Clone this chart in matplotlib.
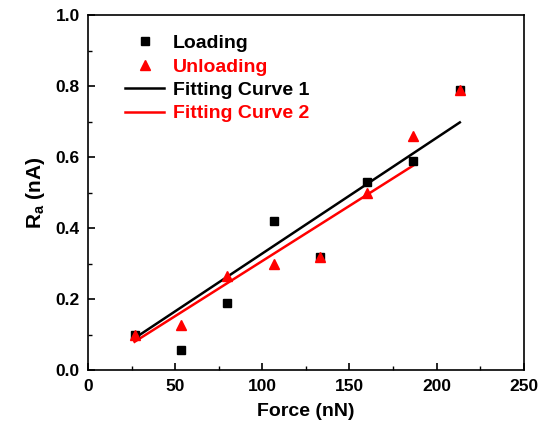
import numpy as np
import matplotlib
matplotlib.use("Agg")
import matplotlib.pyplot as plt
from matplotlib.ticker import MultipleLocator

plt.rcParams['font.family'] = ['Liberation Sans', 'DejaVu Sans']
plt.rcParams['font.weight'] = 'bold'
plt.rcParams['mathtext.fontset'] = 'custom'
plt.rcParams['mathtext.rm'] = 'Liberation Sans:bold'
plt.rcParams['mathtext.bf'] = 'Liberation Sans:bold'

# ── Data ──────────────────────────────────────────────
force       = [26.7, 53.3, 80.0, 106.7, 133.3, 160.0, 186.7, 213.3]
loading     = [0.100, 0.058, 0.188, 0.420, 0.320, 0.530, 0.590, 0.790]
unloading   = [0.100, 0.128, 0.265, 0.300, 0.320, 0.500, 0.660, 0.790]

fit1_x = [26.7, 213.3]
fit1_y = [0.090, 0.698]
fit2_x = [26.7, 186.7]
fit2_y = [0.080, 0.577]

fig = plt.figure(figsize=(5.4, 4.34), dpi=100)
ax = fig.add_axes([0.163, 0.147, 0.807, 0.818])

ax.plot(force, loading, 's', color='black', markersize=6, label='Loading', zorder=4)
ax.plot(force, unloading, '^', color='red', markersize=7, label='Unloading', zorder=4)
ax.plot(fit1_x, fit1_y, '-', color='black', linewidth=1.8, label='Fitting Curve 1', zorder=3)
ax.plot(fit2_x, fit2_y, '-', color='red', linewidth=1.8, label='Fitting Curve 2', zorder=3)

ax.set_xlim(0, 250)
ax.set_ylim(0, 1.0)
ax.xaxis.set_major_locator(MultipleLocator(50))
ax.xaxis.set_minor_locator(MultipleLocator(25))
ax.yaxis.set_major_locator(MultipleLocator(0.2))
ax.yaxis.set_minor_locator(MultipleLocator(0.1))
ax.yaxis.set_major_formatter(plt.FuncFormatter(lambda v, p: f"{v:.1f}"))
ax.tick_params(which='major', direction='in', length=5, width=1.2, labelsize=12.5, pad=6)
ax.tick_params(which='minor', direction='in', length=3, width=1.0)
for s in ax.spines.values():
    s.set_linewidth(1.2)

ax.set_xlabel("Force (nN)", fontsize=14, fontweight='bold', labelpad=7)
ax.set_ylabel(r"R$_\mathbf{a}$ (nA)", fontsize=15, fontweight='bold', labelpad=6)

leg = ax.legend(loc='upper left', bbox_to_anchor=(0.045, 0.995), frameon=False,
                fontsize=14, handlelength=2.0, handletextpad=0.45, labelspacing=0.3)
for txt, col in zip(leg.get_texts(), ['black', 'red', 'black', 'red']):
    txt.set_color(col)

fig.savefig("out.png", dpi=100)
